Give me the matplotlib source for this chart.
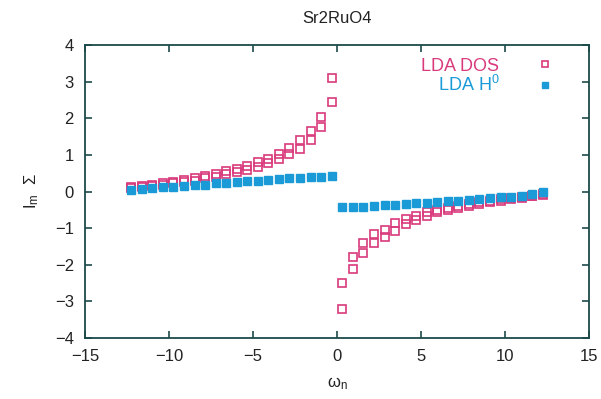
import matplotlib
matplotlib.use('Agg')
from matplotlib import pyplot as plt

plt.rcParams['font.family'] = ['Liberation Sans', 'DejaVu Sans']
plt.rcParams['mathtext.default'] = 'regular'

# Matsubara frequencies (beta ~ 10)
omega_neg = [-12.25, -11.62, -11.00, -10.37, -9.74, -9.11, -8.48, -7.85, -7.23, -6.60,
             -5.97, -5.34, -4.71, -4.08, -3.46, -2.83, -2.20, -1.57, -0.94, -0.31]
omega_pos = [0.31, 0.94, 1.57, 2.20, 2.83, 3.46, 4.08, 4.71, 5.34, 5.97,
             6.60, 7.23, 7.85, 8.48, 9.11, 9.74, 10.37, 11.00, 11.62, 12.25]

# LDA DOS (two overlapping orbital curves)
dos_a_neg = [0.12, 0.15, 0.18, 0.22, 0.26, 0.31, 0.36, 0.42, 0.48, 0.55,
             0.62, 0.70, 0.80, 0.90, 1.03, 1.20, 1.40, 1.65, 2.03, 3.10]
dos_b_neg = [0.09, 0.12, 0.15, 0.18, 0.22, 0.26, 0.30, 0.36, 0.41, 0.47,
             0.53, 0.60, 0.68, 0.77, 0.88, 1.02, 1.17, 1.40, 1.75, 2.45]
dos_a_pos = [-3.20, -2.11, -1.69, -1.41, -1.23, -1.07, -0.88, -0.77, -0.66, -0.57,
             -0.50, -0.45, -0.40, -0.34, -0.29, -0.25, -0.21, -0.17, -0.13, -0.09]
dos_b_pos = [-2.50, -1.78, -1.41, -1.17, -1.05, -0.87, -0.75, -0.66, -0.57, -0.50,
             -0.44, -0.39, -0.34, -0.29, -0.25, -0.21, -0.17, -0.14, -0.11, -0.07]

# LDA H0
h0_neg = [0.04, 0.06, 0.09, 0.11, 0.13, 0.15, 0.17, 0.19, 0.22, 0.24,
          0.26, 0.28, 0.30, 0.32, 0.34, 0.36, 0.38, 0.40, 0.41, 0.42]
h0_pos = [-0.41, -0.42, -0.41, -0.39, -0.37, -0.36, -0.34, -0.32, -0.31, -0.29,
          -0.27, -0.25, -0.22, -0.20, -0.18, -0.16, -0.14, -0.11, -0.07, -0.02]

pink = '#d93a7c'
blue = '#1a9bd7'
frame = '#1c4a4a'

fig = plt.figure(figsize=(6.01, 3.99), dpi=100)
ax = fig.add_axes([0.1414, 0.153, 0.8386, 0.734])

omega = omega_neg + omega_pos
dos_a = dos_a_neg + dos_a_pos
dos_b = dos_b_neg + dos_b_pos
h0 = h0_neg + h0_pos

ax.plot(omega, dos_a, 's', ms=5.6, mfc='none', mec=pink, mew=1.2, label='LDA DOS')
ax.plot(omega, dos_b, 's', ms=5.6, mfc='none', mec=pink, mew=1.2)
ax.plot(omega, h0, 's', ms=5.6, color=blue, mec=blue, label='LDA H$^0$')

ax.set_xlim(-15, 15)
ax.set_ylim(-4, 4)
ax.set_xticks([-15, -10, -5, 0, 5, 10, 15])
ax.set_yticks(range(-4, 5))

for s in ax.spines.values():
    s.set_color(frame)
    s.set_linewidth(1.3)
ax.tick_params(direction='in', top=True, right=True, length=5, width=1.2,
               color=frame, labelsize=12, labelcolor='#222222', pad=8)

ax.set_title('Sr2RuO4', fontsize=12, color='#222222', pad=16)
ax.set_xlabel('ω$_n$', fontsize=12, color='#222222', labelpad=8)
ax.set_ylabel('I$_m$  Σ', fontsize=12, color='#222222', labelpad=10)

leg = ax.legend(loc='upper right', bbox_to_anchor=(0.955, 1.0), frameon=False,
                markerfirst=False, fontsize=13, markerscale=0.85,
                handlelength=1.0, handletextpad=2.0, labelspacing=0.0,
                borderaxespad=0.3, labelcolor=[pink, blue])

fig.savefig('out.png', dpi=100)
